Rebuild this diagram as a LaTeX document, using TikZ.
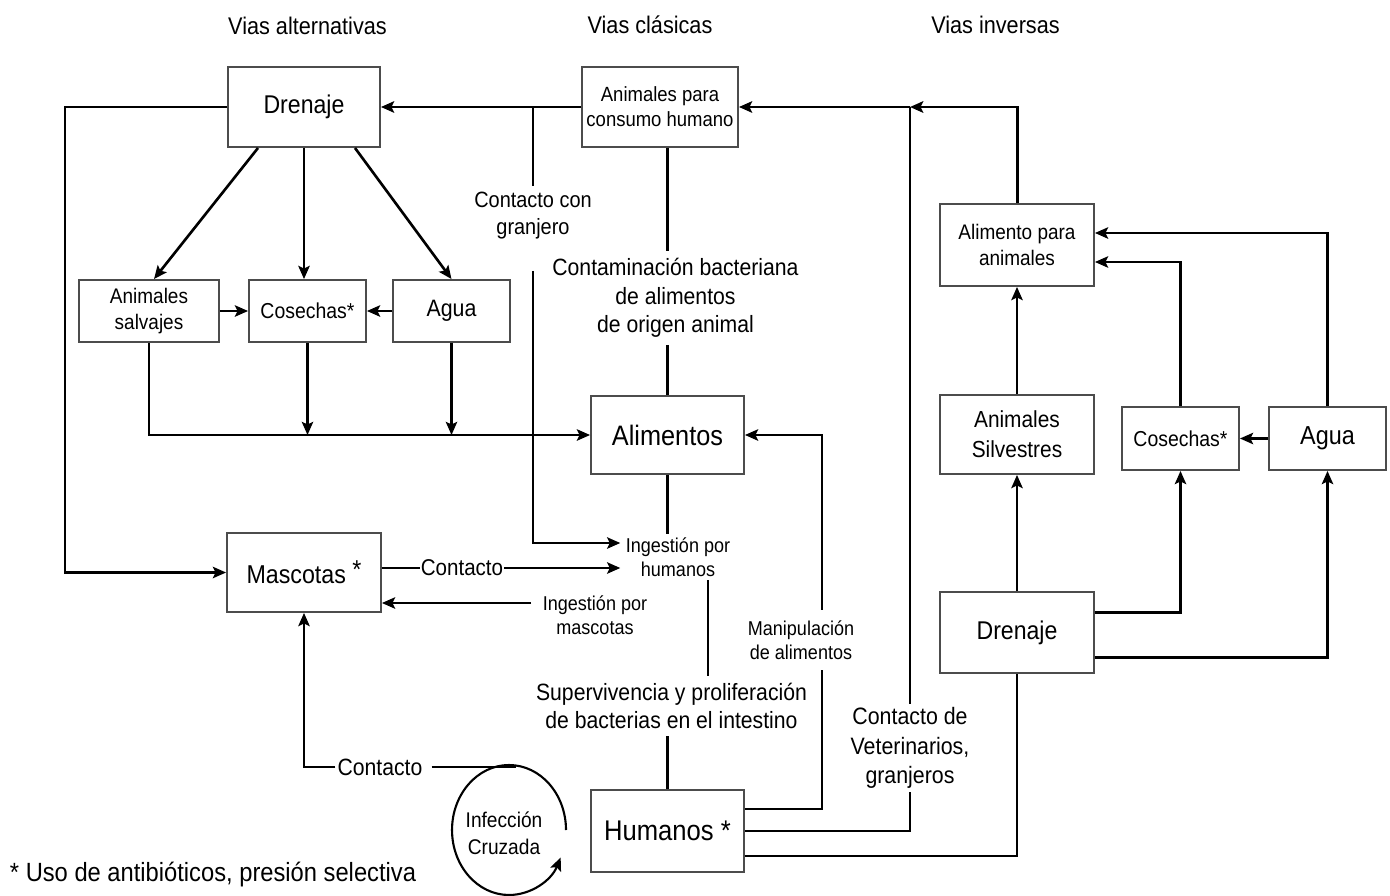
\documentclass[tikz,border=0pt]{standalone}
\usepackage{fontspec}
\setmainfont{Liberation Sans}[FakeStretch=0.9]
\usetikzlibrary{arrows.meta}
\newcommand{\fs}[2]{\fontsize{#1}{#2}\selectfont}
\tikzset{
 box/.style={draw=black!70, line width=1.1pt, fill=white, inner sep=0pt, align=center},
 lbl/.style={inner sep=1pt, align=center},
 ln/.style={line width=1.2pt},
 tk/.style={line width=1.7pt},
 arr/.style={ln, -{Stealth[length=7.5pt,width=6.5pt,inset=1.5pt]}},
}
\begin{document}
\begin{tikzpicture}[x=0.02cm,y=-0.02cm]
\useasboundingbox (0,0) rectangle (1390,896);
% boxes
\node[box, minimum width=3.04cm, minimum height=1.6cm, font=\fs{14.6}{17}] (dren1) at (304,107) {Drenaje};
\node[box, minimum width=3.12cm, minimum height=1.6cm, font=\fs{11.7}{14.2}] (anh) at (660,107) {Animales para\\consumo humano};
\node[box, minimum width=2.8cm, minimum height=1.24cm, font=\fs{12}{14.7}] (salv) at (149,311) {Animales\\salvajes};
\node[box, minimum width=2.34cm, minimum height=1.24cm, font=\fs{12.3}{14.7}] (cos1) at (307.5,311) {Cosechas*};
\node[box, minimum width=2.34cm, minimum height=1.24cm, font=\fs{13.5}{16}] (agua1) at (451.5,311) {Agua};
\node[box, minimum width=3.06cm, minimum height=1.56cm, font=\fs{16}{19}] (alim) at (667.5,435) {Alimentos};
\node[box, minimum width=3.08cm, minimum height=1.58cm, font=\fs{14.7}{17}] (masc) at (304,572.5) {Mascotas \raisebox{0.2em}{*}};
\node[box, minimum width=3.06cm, minimum height=1.64cm, font=\fs{16.2}{19}] (hum) at (667.5,831) {Humanos *};
\node[box, minimum width=3.08cm, minimum height=1.64cm, font=\fs{12}{14.7}] (aanim) at (1017,245) {Alimento para\\animales};
\node[box, minimum width=3.08cm, minimum height=1.58cm, font=\fs{13.2}{17}] (silv) at (1017,434.5) {Animales\\Silvestres};
\node[box, minimum width=2.34cm, minimum height=1.26cm, font=\fs{12.3}{14.7}] (cos2) at (1180.5,438.5) {Cosechas*};
\node[box, minimum width=2.34cm, minimum height=1.26cm, font=\fs{14.8}{17}] (agua2) at (1327.5,438.5) {Agua};
\node[box, minimum width=3.08cm, minimum height=1.62cm, font=\fs{14.6}{17}] (dren2) at (1017,632.5) {Drenaje};
% labels
\node[lbl, font=\fs{13.7}{16}] (h1) at (307.5,26) {Vias alternativas};
\node[lbl, font=\fs{13.7}{16}] (h2) at (650,25) {Vias clásicas};
\node[lbl, font=\fs{13.7}{16}] (h3) at (995.5,25) {Vias inversas};
\node[lbl, font=\fs{13.4}{16.2}, inner ysep=4pt] (cont) at (675.5,298) {Contaminación bacteriana\\de alimentos\\de origen animal};
\node[lbl, font=\fs{12.6}{15.3}, inner ysep=3pt] (cg) at (533,215.5) {Contacto con\\granjero};
\node[lbl, font=\fs{11.4}{13.6}, inner xsep=3pt, inner ysep=2pt] (ingh) at (678,557) {Ingestión por\\humanos};
\node[lbl, font=\fs{11.4}{13.6}] (ingm) at (595,615) {Ingestión por\\mascotas};
\node[lbl, font=\fs{13}{15}, inner xsep=0.5pt] (ct1) at (462,568) {Contacto};
\node[lbl, font=\fs{13.4}{15}, inner xsep=1pt] (ct2) at (380,767) {Contacto};
\node[lbl, font=\fs{11.4}{13.6}, inner ysep=6pt] (man) at (801,640) {Manipulación\\de alimentos};
\node[lbl, font=\fs{13.4}{15.9}, inner ysep=4pt] (sup) at (671.5,706) {Supervivencia y proliferación\\de bacterias en el intestino};
\node[lbl, font=\fs{13.5}{16.7}, inner ysep=2pt] (cv) at (910,748) {Contacto de\\Veterinarios,\\granjeros};
\node[lbl, font=\fs{12.1}{15.3}] (inf) at (504,833) {Infección\\Cruzada};
\node[lbl, font=\fs{15}{18}] (foot) at (213,875) {* Uso de antibióticos, presión selectiva};
% coordinates
\coordinate (j1) at (533,107);
\coordinate (j2) at (910,107);
\coordinate (sx) at (708,0);
\coordinate (mx) at (822,0);
\coordinate (im) at (531,603);
\coordinate (ctop) at (516,767);
\coordinate (cc) at (509,830);
% classical / alternative
\draw[arr,tk] (anh.west) -- (dren1.east);
\draw[ln] (j1) -- (cg.north);
\draw[arr, shorten <=15pt] (cg.south) |- ([yshift=0.28cm]ingh.west);
\draw[ln] (anh.south -| alim.north) -- (cont.north -| alim.north);
\draw[ln] (cont.south -| alim.north) -- (alim.north);
\draw[arr] (dren1.west) -- ++(-162,0) |- (masc.west);
\draw[arr,line width=1.5pt] ([xshift=-0.92cm]dren1.south) -- ([xshift=0.1cm]salv.north);
\draw[arr] (dren1.south) -- (dren1.south |- cos1.north);
\draw[arr,line width=1.5pt] ([xshift=1.02cm]dren1.south) -- (agua1.north);
\draw[arr] (salv.east) -- (cos1.west);
\draw[arr] (agua1.west) -- (cos1.east);
\draw[arr] (salv.south) |- (alim.west);
\draw[arr] (cos1.south) -- (cos1.south |- alim.west);
\draw[arr] (agua1.south) -- (agua1.south |- alim.west);
\draw[ln] (alim.south) -- (alim.south |- ingh.north);
\draw[ln] (ingh.south -| sx) -- (sup.north -| sx);
\draw[ln] (sup.south -| hum.north) -- (hum.north);
\draw[ln] (masc.east |- ct1.west) -- (ct1.west);
\draw[arr] (ct1.east) -- (ct1.east -| ingh.west);
\draw[arr] (im) -- (masc.east |- im);
\draw[arr] (ct2.west) -| (masc.south);
\draw[ln, shorten <=4pt] (ct2.east) -- (ctop);
\draw[arr] (cc) ++(57,0) arc[start angle=0, end angle=335, x radius=1.14cm, y radius=1.3cm];
% inverse
\draw[arr,tk] (aanim.north) |- (j2);
\draw[arr,tk] (j2) -- (anh.east);
\draw[ln] (j2) -- (cv.north);
\draw[ln] (cv.south) |- (hum.east);
\draw[ln] ([yshift=0.44cm]hum.east) -| (man.south -| mx);
\draw[arr] (man.north -| mx) |- (alim.east);
\draw[ln] ([yshift=-0.5cm]hum.east) -| (dren2.south);
\draw[arr] (dren2.north) -- (silv.south);
\draw[arr] (silv.north) -- (aanim.south);
\draw[arr] ([yshift=0.4cm]dren2.east) -| (cos2.south);
\draw[arr] ([yshift=-0.5cm]dren2.east) -| (agua2.south);
\draw[arr] (agua2.west) -- (cos2.east);
\draw[arr] (cos2.north) |- ([yshift=-0.34cm]aanim.east);
\draw[arr] (agua2.north) |- ([yshift=0.24cm]aanim.east);
\end{tikzpicture}
\end{document}
